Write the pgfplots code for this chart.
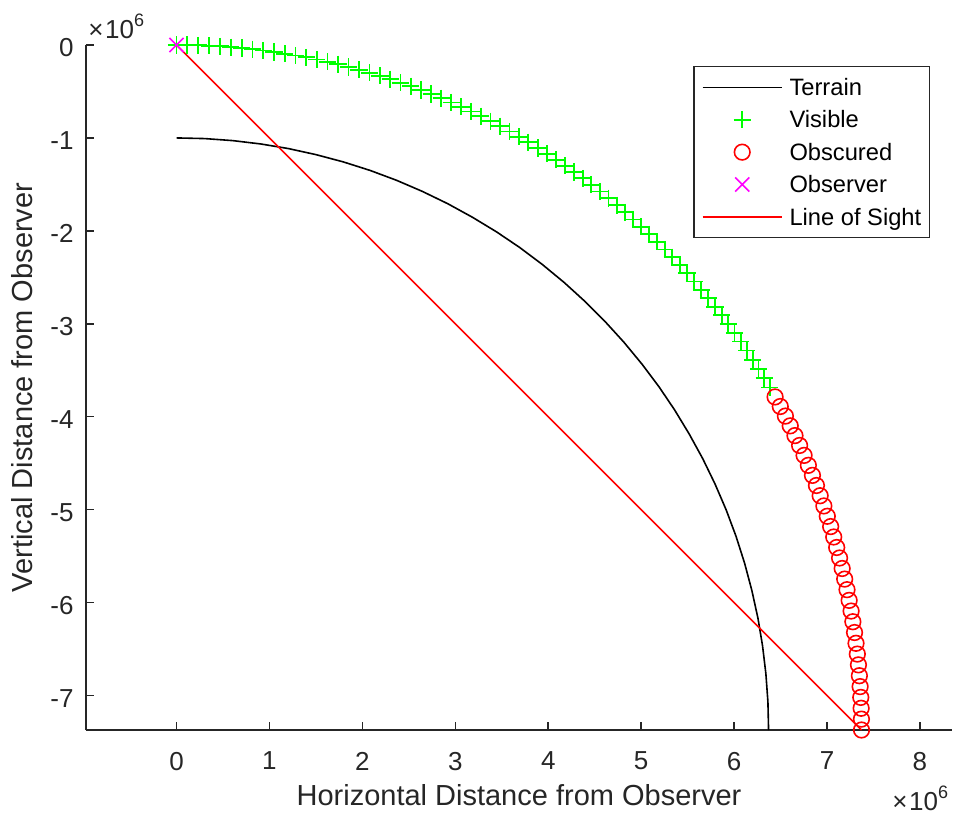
\documentclass[border=0pt]{standalone}
\usepackage{fontspec}
\setmainfont{Liberation Sans}
\usepackage{pgfplots}
\pgfplotsset{compat=1.18}
\definecolor{axcol}{rgb}{0.15,0.15,0.15}
\definecolor{mgreen}{rgb}{0,1,0}
\definecolor{mred}{rgb}{1,0,0}
\definecolor{mmag}{rgb}{1,0,1}
\pgfplotsset{
  lineleg/.style={legend image code/.code={\path[draw=none,fill=none] (0pt,-5pt) rectangle (39.5pt,5pt); \draw[##1] (0pt,0pt) -- (39.5pt,0pt);}},
  markleg/.style={legend image code/.code={\path[draw=none,fill=none] (0pt,-5pt) rectangle (39.5pt,5pt); \draw[##1] plot coordinates {(19.75pt,0pt)};}},
}
\begin{document}
\begin{tikzpicture}
\useasboundingbox (-43pt,-42.5pt) rectangle (435.5pt,365pt);
\begin{axis}[
  at={(0pt,0pt)}, anchor=south west,
  scale only axis, width=433pt, height=342.5pt,
  xmin=-0.974, xmax=8.345, ymin=-7.371, ymax=0,
  axis x line*=bottom, axis y line*=left,
  axis line style={-, draw=axcol, line width=0.75pt},
  tick style={draw=axcol, line width=0.75pt},
  tick align=inside, major tick length=4pt,
  xtick={0,1,2,3,4,5,6,7,8}, xticklabels={0,1,2,3,4,5,6,7,8},
  ytick={-7,-6,-5,-4,-3,-2,-1,0}, yticklabels={-7,-6,-5,-4,-3,-2,-1,0},
  ticklabel style={font=\fontsize{13}{15}\selectfont, text=axcol},
  xticklabel style={yshift=-7.5pt},
  yticklabel style={xshift=-2.7pt, yshift=-1.3pt},
  xlabel={Horizontal Distance from Observer},
  ylabel={Vertical Distance from Observer},
  label style={font=\fontsize{14.5}{17}\selectfont, text=axcol},
  xlabel style={at={(rel axis cs:0.5,-0.1109)}, anchor=base},
  ylabel style={at={(rel axis cs:-0.0612,0.5)}, anchor=base},
  clip=false,
  legend cell align=left,
  legend style={at={(rel axis cs:1,1)}, anchor=north east, xshift=-11pt, yshift=-10.5pt,
    draw=axcol, fill=white, line width=0.75pt,
    font=\fontsize{11.85}{14}\selectfont,
    inner xsep=4pt, inner ysep=3.2pt, column sep=3.5pt, row sep=2pt,
    nodes={inner sep=0pt, text height=11.2pt, text depth=3pt},
    cells={anchor=west}},
]
\addplot[black, line width=0.8pt, mark=none, lineleg] coordinates {
(0,-1.000) (0.303,-1.007) (0.606,-1.029) (0.907,-1.065) (1.206,-1.115) (1.502,-1.180) (1.795,-1.258) (2.084,-1.350) (2.368,-1.456) (2.647,-1.576) (2.919,-1.708) (3.185,-1.854) (3.444,-2.011) (3.696,-2.181) (3.938,-2.363) (4.172,-2.556) (4.396,-2.760) (4.611,-2.975) (4.815,-3.199) (5.008,-3.433) (5.190,-3.675) (5.360,-3.927) (5.517,-4.186) (5.663,-4.452) (5.795,-4.724) (5.915,-5.003) (6.021,-5.287) (6.113,-5.576) (6.191,-5.869) (6.256,-6.165) (6.306,-6.464) (6.342,-6.765) (6.364,-7.068) (6.371,-7.371)
};
\addlegendentry{Terrain}
\addplot[only marks, mark=+, mark size=4.3pt, color=mgreen, mark options={line width=0.9pt}, markleg] coordinates {
(0,0) (0.117,-0.001) (0.234,-0.004) (0.351,-0.008) (0.467,-0.015) (0.584,-0.023) (0.701,-0.033) (0.817,-0.045) (0.933,-0.059) (1.049,-0.075)
(1.165,-0.093) (1.280,-0.112) (1.395,-0.133) (1.510,-0.156) (1.624,-0.181) (1.738,-0.208) (1.851,-0.236) (1.964,-0.267) (2.077,-0.299) (2.189,-0.332)
(2.300,-0.368) (2.411,-0.405) (2.521,-0.445) (2.631,-0.485) (2.740,-0.528) (2.848,-0.572) (2.955,-0.618) (3.062,-0.666) (3.168,-0.716) (3.273,-0.767)
(3.378,-0.819) (3.481,-0.874) (3.584,-0.930) (3.685,-0.988) (3.786,-1.047) (3.886,-1.108) (3.985,-1.170) (4.083,-1.234) (4.180,-1.300) (4.276,-1.367)
(4.370,-1.435) (4.464,-1.505) (4.556,-1.577) (4.648,-1.650) (4.738,-1.725) (4.827,-1.800) (4.915,-1.878) (5.001,-1.956) (5.087,-2.036) (5.171,-2.118)
(5.253,-2.200) (5.335,-2.284) (5.415,-2.370) (5.493,-2.456) (5.571,-2.544) (5.646,-2.633) (5.721,-2.723) (5.794,-2.815) (5.866,-2.907) (5.936,-3.001)
(6.004,-3.095) (6.071,-3.191) (6.137,-3.288) (6.201,-3.386) (6.263,-3.485) (6.324,-3.585) (6.383,-3.686)
};
\addlegendentry{Visible}
\addplot[only marks, mark=o, mark size=3.9pt, color=mred, mark options={line width=0.8pt}, markleg] coordinates {
(6.441,-3.787) (6.497,-3.890) (6.552,-3.993) (6.604,-4.098) (6.655,-4.203) (6.705,-4.309) (6.753,-4.416) (6.799,-4.523) (6.843,-4.631) (6.886,-4.740)
(6.926,-4.850) (6.966,-4.960) (7.003,-5.071) (7.039,-5.182) (7.072,-5.294) (7.104,-5.407) (7.135,-5.520) (7.163,-5.633) (7.190,-5.747) (7.215,-5.861)
(7.238,-5.976) (7.259,-6.091) (7.278,-6.206) (7.296,-6.322) (7.312,-6.438) (7.326,-6.554) (7.338,-6.670) (7.348,-6.787) (7.356,-6.904) (7.363,-7.020)
(7.367,-7.137) (7.370,-7.254) (7.371,-7.371)
};
\addlegendentry{Obscured}
\addplot[only marks, mark=x, mark size=5pt, color=mmag, mark options={line width=0.8pt}, markleg] coordinates {(0,0)};
\addlegendentry{Observer}
\addplot[mred, line width=0.8pt, mark=none, lineleg] coordinates {(0,0) (7.371,-7.371)};
\addlegendentry{Line of Sight}
\node[anchor=base west, inner sep=0pt, text=axcol, font=\fontsize{13}{15}\selectfont] at (rel axis cs:0.0023,1.0102) {×\hspace{0.8pt}10\raisebox{6pt}{\fontsize{9}{9}\selectfont 6}};
\node[anchor=base west, inner sep=0pt, text=axcol, font=\fontsize{13}{15}\selectfont] at (rel axis cs:0.9307,-0.1168) {×\hspace{0.8pt}10\raisebox{6pt}{\fontsize{9}{9}\selectfont 6}};
\end{axis}
\end{tikzpicture}
\end{document}
